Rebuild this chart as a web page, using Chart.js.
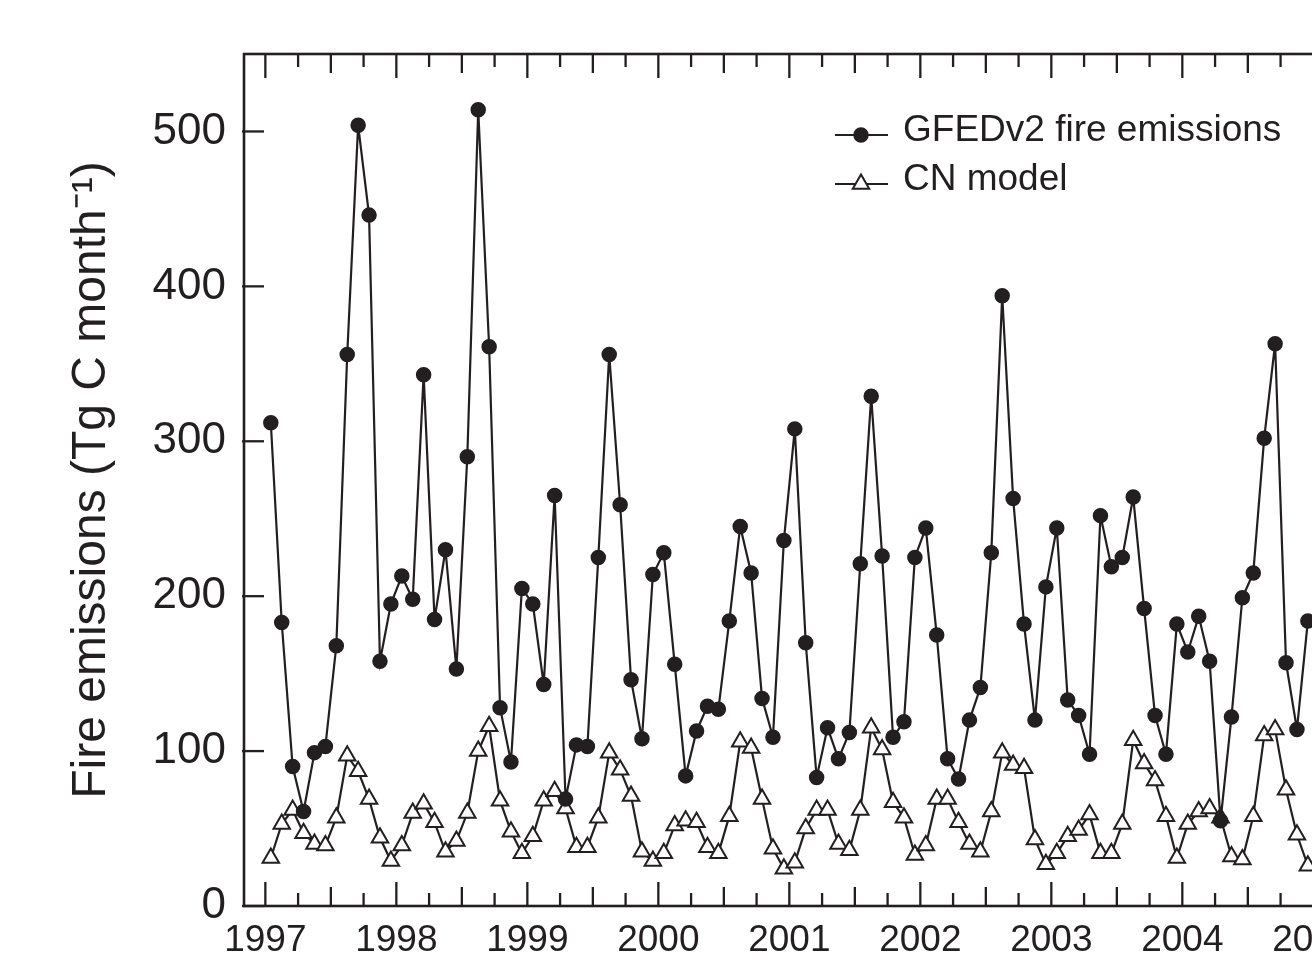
<!DOCTYPE html>
<html><head><meta charset="utf-8">
<script src="https://cdn.jsdelivr.net/npm/chart.js@4.4.1/dist/chart.umd.min.js"></script>
<style>
html,body{margin:0;padding:0;background:#fff;overflow:hidden;width:1312px;height:961px}
#wrap{position:absolute;left:0;top:0;width:1400px;height:961px}
</style>
</head><body><div id="wrap"><canvas id="c" width="1400" height="961"></canvas></div>
<script>
// ---- data (monthly, Jan 1997 – Dec 2004) ----
const startYear = 1997;
const monthsPerYear = 12;
const yearTicks = [1997, 1998, 1999, 2000, 2001, 2002, 2003, 2004, 2005];
const yTicks = [0, 100, 200, 300, 400, 500];
const seriesNames = ['GFEDv2 fire emissions', 'CN model'];
const yTitle = 'Fire emissions (Tg C month\u207B\u00B9)';

const gfed = [
  312, 183, 90, 61, 99, 103, 168, 356, 504, 446, 158, 195,   // 1997
  213, 198, 343, 185, 230, 153, 290, 514, 361, 128, 93, 205,  // 1998
  195, 143, 265, 69, 104, 103, 225, 356, 259, 146, 108, 214,  // 1999
  228, 156, 84, 113, 129, 127, 184, 245, 215, 134, 109, 236,  // 2000
  308, 170, 83, 115, 95, 112, 221, 329, 226, 109, 119, 225,   // 2001
  244, 175, 95, 82, 120, 141, 228, 394, 263, 182, 120, 206,   // 2002
  244, 133, 123, 98, 252, 219, 225, 264, 192, 123, 98, 182,   // 2003
  164, 187, 158, 55, 122, 199, 215, 302, 363, 157, 114, 184   // 2004
];
const cnModel = [
  31, 53, 62, 47, 40, 39, 57, 97, 87, 69, 44, 29,    // 1997
  39, 60, 66, 54, 35, 42, 60, 100, 116, 68, 48, 34,  // 1998
  45, 68, 74, 63, 38, 38, 57, 99, 88, 71, 35, 29,    // 1999
  34, 52, 55, 54, 38, 34, 58, 106, 102, 69, 37, 24,  // 2000
  28, 50, 62, 62, 40, 36, 62, 115, 101, 67, 57, 33,  // 2001
  39, 69, 69, 54, 40, 35, 61, 99, 91, 89, 43, 27,    // 2002
  34, 45, 49, 59, 34, 34, 53, 107, 92, 81, 58, 31,   // 2003
  53, 61, 63, 57, 32, 30, 58, 110, 114, 75, 46, 26   // 2004
];

// ---- styling ----
const INK = '#231f20';
const FONT = "'Liberation Sans', Arial, Helvetica, sans-serif";
const X_MIN = 1996.837;
const X_MAX = 2005.509;

const toPoints = arr => arr.map((v, i) => ({ x: startYear + (i + 0.5) / monthsPerYear, y: v }));

const framePlugin = {
  id: 'frame',
  afterDatasetsDraw(chart) {
    const { ctx, chartArea: a, scales: { x, y } } = chart;
    ctx.save();
    ctx.strokeStyle = INK;
    ctx.lineWidth = 2.6;
    ctx.strokeRect(a.left, a.top, a.right - a.left, a.bottom - a.top);
    ctx.lineWidth = 2.3;
    const line = (x1, y1, x2, y2) => { ctx.beginPath(); ctx.moveTo(x1, y1); ctx.lineTo(x2, y2); ctx.stroke(); };
    for (let q = Math.ceil(X_MIN * 4); q <= Math.floor(X_MAX * 4); q++) {
      const px = x.getPixelForValue(q / 4);
      const len = q % 4 === 0 ? 24 : (q % 2 === 0 ? 19 : 13);
      line(px, a.bottom, px, a.bottom - len);
      line(px, a.top, px, a.top + len);
    }
    for (const v of yTicks) {
      const py = y.getPixelForValue(v);
      line(a.left - 2, py, a.left + 20, py);
    }
    ctx.restore();
  }
};

const legendPlugin = {
  id: 'customLegend',
  afterDraw(chart) {
    const { ctx } = chart;
    const rows = [{ y: 131, ds: chart.data.datasets[0] }, { y: 180, ds: chart.data.datasets[1] }];
    ctx.save();
    for (const r of rows) {
      const ly = r.y + 4;
      ctx.strokeStyle = INK;
      ctx.lineWidth = 2.2;
      ctx.beginPath(); ctx.moveTo(835, ly); ctx.lineTo(888, ly); ctx.stroke();
      ctx.fillStyle = r.ds.pointBackgroundColor;
      ctx.strokeStyle = r.ds.pointBorderColor;
      ctx.lineWidth = r.ds.pointBorderWidth;
      ctx.beginPath();
      if (r.ds.pointStyle === 'circle') {
        ctx.arc(861, ly, r.ds.pointRadius, 0, Math.PI * 2);
      } else {
        const rr = r.ds.pointRadius;
        for (let k = 0; k < 3; k++) {
          const ang = k * 2 * Math.PI / 3;
          const px = 861 + Math.sin(ang) * rr, py = ly - Math.cos(ang) * rr;
          k === 0 ? ctx.moveTo(px, py) : ctx.lineTo(px, py);
        }
        ctx.closePath();
      }
      ctx.fill(); ctx.stroke();
      ctx.fillStyle = INK;
      ctx.font = '37px ' + FONT;
      ctx.textBaseline = 'middle';
      ctx.textAlign = 'left';
      ctx.fillText(r.ds.label, 903, r.y);
    }
    ctx.restore();
  }
};

new Chart(document.getElementById('c'), {
  type: 'line',
  data: {
    datasets: [
      {
        label: seriesNames[0], data: toPoints(gfed),
        borderColor: INK, borderWidth: 2.2, tension: 0,
        pointStyle: 'circle', pointRadius: 7, pointBorderWidth: 1.5,
        pointBackgroundColor: INK, pointBorderColor: INK
      },
      {
        label: seriesNames[1], data: toPoints(cnModel),
        borderColor: INK, borderWidth: 2.2, tension: 0,
        pointStyle: 'triangle', pointRadius: 9.5, pointBorderWidth: 2,
        pointBackgroundColor: '#ffffff', pointBorderColor: INK
      }
    ]
  },
  options: {
    responsive: false, animation: false, devicePixelRatio: 1,
    layout: { padding: { top: 54, right: 20, left: 0, bottom: 0 } },
    plugins: { legend: { display: false }, tooltip: { enabled: false } },
    scales: {
      x: {
        type: 'linear', min: X_MIN, max: X_MAX,
        afterFit(s) { s.height = 55; },
        afterBuildTicks(s) { s.ticks = yearTicks.map(v => ({ value: v })); },
        grid: { display: false, drawTicks: false }, border: { display: false },
        ticks: { autoSkip: false, maxRotation: 0, padding: 13, color: INK,
          font: { family: FONT, size: 37 }, callback: v => String(v) }
      },
      y: {
        type: 'linear', min: 0, max: 550,
        afterFit(s) { s.width = 244; },
        afterBuildTicks(s) { s.ticks = yTicks.map(v => ({ value: v })); },
        grid: { display: false, drawTicks: false }, border: { display: false },
        ticks: { padding: 18, color: INK, font: { family: FONT, size: 44 }, callback: v => String(v) },
        title: { display: true, text: yTitle, color: INK, font: { family: FONT, size: 48 },
          padding: { top: 63, bottom: 0 } }
      }
    }
  },
  plugins: [framePlugin, legendPlugin]
});
</script>
</body></html>
